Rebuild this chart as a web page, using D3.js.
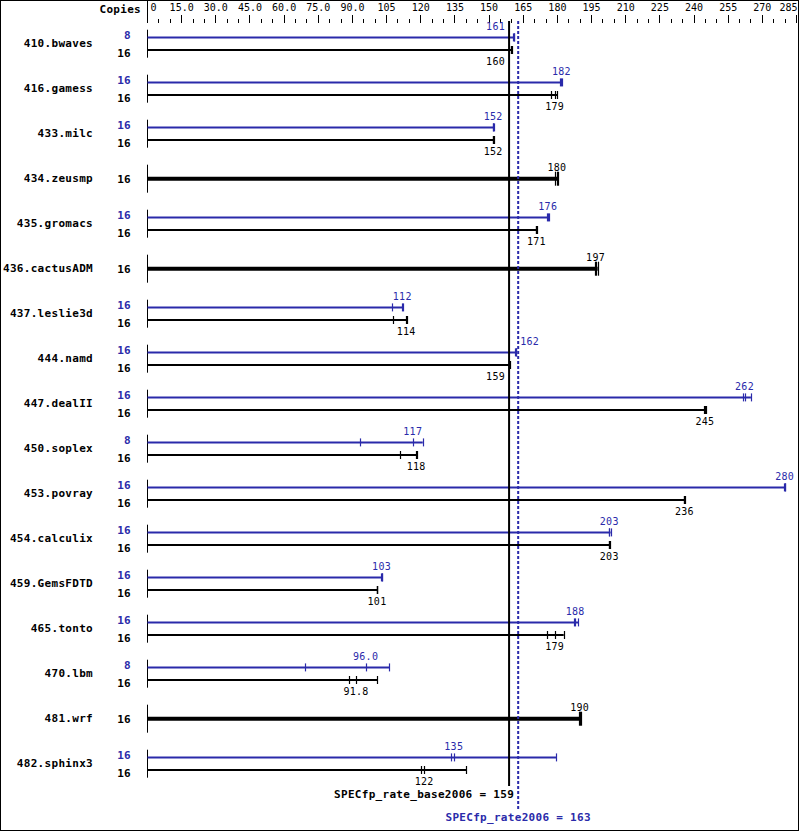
<!DOCTYPE html>
<html><head><meta charset="utf-8">
<script src="https://cdn.jsdelivr.net/npm/d3@7"></script>
<style>
html,body{margin:0;padding:0;background:#fff;}
svg{display:block;}
</style></head>
<body>
<script>
// ---------- data ----------
const benchmarks = ["410.bwaves","416.gamess","433.milc","434.zeusmp","435.gromacs","436.cactusADM",
  "437.leslie3d","444.namd","447.dealII","450.soplex","453.povray","454.calculix","459.GemsFDTD",
  "465.tonto","470.lbm","481.wrf","482.sphinx3"];
// null peak = base and peak identical (single bar)
const peakCopies = [8,16,16,null,16,null,16,16,16,8,16,16,16,16,8,null,16];
const baseCopies = [16,16,16,16,16,16,16,16,16,16,16,16,16,16,16,16,16];
const peakRuns = [
  [160.7,161,161.3],[181.2,182,182.4],[151.8,152,152.2],null,[175.8,176,176.4],null,
  [107.6,112.1,112.6],[161.8,162,162.2],[261.9,262.4,265.2],[93.4,116.7,121.1],
  [279.6,280,280.3],[202.8,203,203.6],[102.8,103,103.2],[187.3,188,189.4],
  [69.5,96.0,106.3],null,[133.6,134.7,179.6]
];
const baseRuns = [
  [159.8,160,160.3],[177.6,179,180.2],[151.8,152,152.4],[179.3,180,180.4],[170.7,171,171.2],[196.6,197,197.9],
  [108.0,113.8,114.1],[158.8,159,159.2],[244.8,245,245.3],[111.0,118.2,118.7],
  [235.6,236,236.3],[202.7,203,203.4],[100.8,101,101.2],[175.5,179,183.0],
  [88.5,91.8,101.0],[189.8,190,190.7],[120.4,121.7,140.3]
];
const axisMax = 285;
const specBase = 159, specPeak = 163;
const baseLabel = "SPECfp_rate_base2006 = 159";
const peakLabel = "SPECfp_rate2006 = 163";

// ---------- setup ----------
const W = 799, H = 831;
const BLUE = "#2a2aaa", BLACK = "#000";
const MONO = "'DejaVu Sans Mono', 'Liberation Mono', monospace";

const svg = d3.select("body").append("svg").attr("width", W).attr("height", H)
  .style("font-family", MONO);

svg.append("rect").attr("x",0.5).attr("y",0.5).attr("width",W-1).attr("height",H-1)
  .attr("fill","#fff").attr("stroke","#000").attr("stroke-width",1);

const x = d3.scaleLinear().domain([0, axisMax]).range([147, 796]);
const y = d3.scalePoint().domain(benchmarks).range([43.7, 43.7 + 45*(benchmarks.length-1)]);
const fmt = d3.format(".3r");
const x0 = Math.round(x(0)) + 0.5;

// ---------- top axis ----------
const majors = d3.range(0, axisMax + 1, 15);
const minors = d3.range(0, axisMax + 1, 5).filter(v => v % 15 !== 0);
const axG = svg.append("g").attr("transform","translate(0,23)");
axG.append("g").call(d3.axisTop(x).tickValues(minors).tickSize(4).tickFormat(""));
const majorAxis = axG.append("g").call(d3.axisTop(x).tickValues(majors).tickSize(8).tickPadding(4)
  .tickFormat(v => v === 0 ? "0" : fmt(v)));
axG.selectAll(".domain").remove();
axG.selectAll("line").attr("stroke","#000").attr("shape-rendering","crispEdges");
majorAxis.selectAll("text").attr("font-family", MONO).attr("font-size", 10).attr("fill","#000");
majorAxis.selectAll(".tick").filter(d => d === 0).select("text").attr("text-anchor","start").attr("x",3);
majorAxis.selectAll(".tick").filter(d => d === axisMax).select("text").attr("text-anchor","end").attr("x",1);
svg.append("line").attr("x1",x0).attr("x2",x0).attr("y1",0).attr("y2",23).attr("stroke","#000");
svg.append("text").attr("x",141).attr("y",12.5).attr("text-anchor","end")
  .attr("font-weight","bold").attr("font-size",11).style("letter-spacing","0.3px").text("Copies");

// ---------- bars ----------
const xb = x(specBase), xp = x(specPeak);
function labelPos(v, w) {
  const cx = x(v);
  if (cx + w/2 > xb - 3 && cx - w/2 < xp + 3) {
    if (v <= (specBase + specPeak)/2) return {x: xb - 4, anchor: "end"};
    return {x: xp + 2, anchor: "start"};
  }
  return {x: cx, anchor: "middle"};
}

function drawRow(g, runs, yy, color, thick, tickH, labelDy) {
  const mx = d3.max(runs), med = d3.median(runs);
  g.append("line").attr("x1", x0).attr("x2", x(mx)).attr("y1", yy).attr("y2", yy)
    .attr("stroke", color).attr("stroke-width", thick);
  g.selectAll(null).data(runs).join("line")
    .attr("x1", d => Math.round(x(d)) + 0.5).attr("x2", d => Math.round(x(d)) + 0.5)
    .attr("y1", yy - tickH).attr("y2", yy + tickH)
    .attr("stroke", color).attr("stroke-width", 1.2);
  const txt = fmt(med);
  const lp = labelPos(med, txt.length * 6.3);
  g.append("text").attr("x", lp.x).attr("y", yy + labelDy).attr("text-anchor", lp.anchor)
    .attr("font-size", 10).style("letter-spacing","0.3px").attr("fill", color).text(txt);
}

benchmarks.forEach((b, i) => {
  const cy = y(b);
  const g = svg.append("g");
  g.append("text").attr("x", 93).attr("y", cy + 3).attr("text-anchor","end")
    .attr("font-weight","bold").attr("font-size",11).style("letter-spacing","0.3px").text(b);
  g.append("line").attr("x1", x0).attr("x2", x0).attr("y1", cy - 14).attr("y2", cy + 14)
    .attr("stroke","#000").attr("stroke-width",1);
  if (peakRuns[i] === null) {
    g.append("text").attr("x",131).attr("y",cy + 4.5).attr("text-anchor","end")
      .attr("font-weight","bold").attr("font-size",11).style("letter-spacing","0.3px")
      .attr("fill",BLACK).text(baseCopies[i]);
    drawRow(g, baseRuns[i], cy, BLACK, 4, 7, -8);
  } else {
    const yp = cy - 6.3, yb = cy + 6.3;
    g.append("text").attr("x",131).attr("y",cy - 5.2).attr("text-anchor","end")
      .attr("font-weight","bold").attr("font-size",11).style("letter-spacing","0.3px")
      .attr("fill",BLUE).text(peakCopies[i]);
    g.append("text").attr("x",131).attr("y",cy + 13).attr("text-anchor","end")
      .attr("font-weight","bold").attr("font-size",11).style("letter-spacing","0.3px")
      .attr("fill",BLACK).text(baseCopies[i]);
    drawRow(g, peakRuns[i], yp, BLUE, 2, 4, -7);
    drawRow(g, baseRuns[i], yb, BLACK, 2, 4, 15);
  }
});

// ---------- reference lines ----------
svg.append("line").attr("x1", xb).attr("x2", xb).attr("y1", 21).attr("y2", 786)
  .attr("stroke","#000").attr("stroke-width",2);
svg.append("line").attr("x1", xp).attr("x2", xp).attr("y1", 21).attr("y2", 810)
  .attr("stroke",BLUE).attr("stroke-width",2).attr("stroke-dasharray","3,2");
svg.append("text").attr("x", xb + 5).attr("y", 798).attr("text-anchor","end")
  .attr("font-weight","bold").attr("font-size",11).style("letter-spacing","0.3px").text(baseLabel);
svg.append("text").attr("x", xp).attr("y", 821).attr("text-anchor","middle")
  .attr("font-weight","bold").attr("font-size",11).style("letter-spacing","0.3px")
  .attr("fill",BLUE).text(peakLabel);
</script>
</body></html>
